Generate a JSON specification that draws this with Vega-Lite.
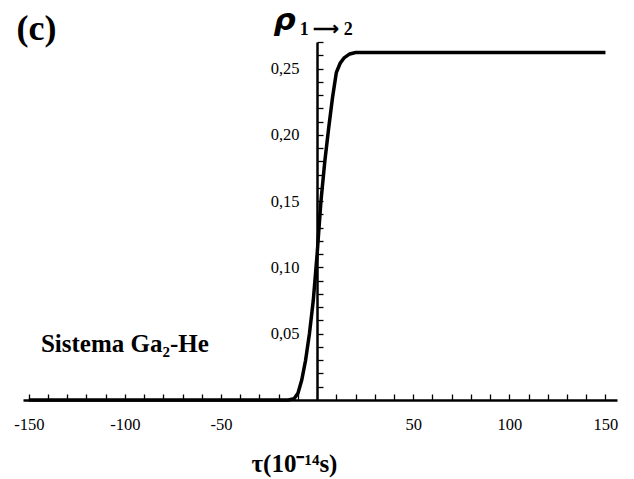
{
  "$schema": "https://vega.github.io/schema/vega-lite/v6.json",
  "width": 594,
  "height": 358,
  "autosize": {"type": "none"},
  "padding": {"left": 23, "top": 42, "right": 17, "bottom": 79},
  "background": "white",
  "config": {
    "view": {"stroke": null},
    "axis": {"grid": false, "domainColor": "black", "tickColor": "black", "labelColor": "black", "titleColor": "black", "labelFont": "Liberation Serif", "titleFont": "Liberation Serif", "labelOverlap": false, "labelFlush": false}
  },
  "resolve": {"scale": {"x": "independent", "y": "independent"}, "axis": {"x": "independent", "y": "independent"}},
  "data": {
    "values": [
      {"tau": -150, "rho": 0},
      {"tau": -15, "rho": 0},
      {"tau": -12, "rho": 0.001},
      {"tau": -10, "rho": 0.005},
      {"tau": -8, "rho": 0.015},
      {"tau": -6, "rho": 0.03},
      {"tau": -4, "rho": 0.05},
      {"tau": -2, "rho": 0.075},
      {"tau": 0, "rho": 0.11},
      {"tau": 2, "rho": 0.15},
      {"tau": 4, "rho": 0.18},
      {"tau": 6, "rho": 0.205},
      {"tau": 8, "rho": 0.228},
      {"tau": 10, "rho": 0.247},
      {"tau": 12, "rho": 0.254},
      {"tau": 14, "rho": 0.258},
      {"tau": 17, "rho": 0.261},
      {"tau": 20, "rho": 0.262},
      {"tau": 150, "rho": 0.262}
    ]
  },
  "layer": [
    {
      "mark": {"type": "line", "color": "black", "strokeWidth": 3.5, "clip": false},
      "encoding": {
        "x": {
          "field": "tau", "type": "quantitative",
          "scale": {"domain": [-153, 156], "nice": false, "zero": false},
          "axis": {
            "orient": "bottom",
            "title": "τ(10⁻¹⁴s)",
            "titleFontSize": 25,
            "titleFontWeight": "bold",
            "titleX": 271,
            "titleY": 63,
            "titleBaseline": "middle",
            "titleAlign": "center",
            "values": [-150,-140,-130,-120,-110,-100,-90,-80,-70,-60,-50,-40,-30,-20,-10,10,20,30,40,50,60,70,80,90,100,110,120,130,140,150],
            "labelExpr": "datum.value % 50 == 0 ? '' + datum.value : ''",
            "labelFontSize": 16.5,
            "labelPadding": 22,
            "tickSize": -6,
            "tickWidth": 1.3,
            "domainWidth": 2.5,
            "labelFlush": false,
            "labelOverlap": false
          }
        },
        "y": {
          "field": "rho", "type": "quantitative",
          "scale": {"domain": [0, 0.27], "nice": false},
          "axis": {
            "orient": "left",
            "title": "ρ",
            "titleFont": "DejaVu Sans",
            "titleFontStyle": "italic",
            "titleFontWeight": "bold",
            "titleFontSize": 31,
            "titleAngle": 0,
            "titleX": -33,
            "titleY": -22,
            "titleAlign": "center",
            "titleBaseline": "middle",
            "offset": -294,
            "values": [0.01,0.02,0.03,0.04,0.05,0.06,0.07,0.08,0.09,0.1,0.11,0.12,0.13,0.14,0.15,0.16,0.17,0.18,0.19,0.2,0.21,0.22,0.23,0.24,0.25,0.26,0.27],
            "labelExpr": "round(datum.value * 100) % 5 == 0 ? replace(format(datum.value, '.2f'), '.', ',') : ''",
            "labelFontSize": 16.5,
            "labelPadding": 24,
            "tickSize": -6,
            "tickWidth": 1.3,
            "domainWidth": 2.5,
            "labelOverlap": false
          }
        }
      }
    },
    {
      "data": {"values": [{}]},
      "mark": {"type": "text", "text": "1 ⟶ 2", "font": "Liberation Serif", "fontWeight": "bold", "fontSize": 18, "align": "left", "baseline": "middle", "color": "black"},
      "encoding": {
        "x": {"datum": -9, "type": "quantitative", "scale": {"domain": [-153, 156], "nice": false, "zero": false}, "axis": null},
        "y": {"datum": 0.279, "type": "quantitative", "scale": {"domain": [0, 0.27], "nice": false}, "axis": null}
      }
    },
    {
      "data": {"values": [{}]},
      "mark": {"type": "text", "text": "Sistema Ga₂-He", "font": "Liberation Serif", "fontWeight": "bold", "fontSize": 25, "align": "center", "baseline": "middle", "color": "black"},
      "encoding": {
        "x": {"datum": -100, "type": "quantitative", "scale": {"domain": [-153, 156], "nice": false, "zero": false}, "axis": null},
        "y": {"datum": 0.0425, "type": "quantitative", "scale": {"domain": [0, 0.27], "nice": false}, "axis": null}
      }
    },
    {
      "data": {"values": [{}]},
      "mark": {"type": "text", "text": "(c)", "font": "Liberation Serif", "fontWeight": "bold", "fontSize": 36, "align": "center", "baseline": "middle", "color": "black"},
      "encoding": {
        "x": {"datum": -146, "type": "quantitative", "scale": {"domain": [-153, 156], "nice": false, "zero": false}, "axis": null},
        "y": {"datum": 0.2795, "type": "quantitative", "scale": {"domain": [0, 0.27], "nice": false}, "axis": null}
      }
    }
  ]
}
